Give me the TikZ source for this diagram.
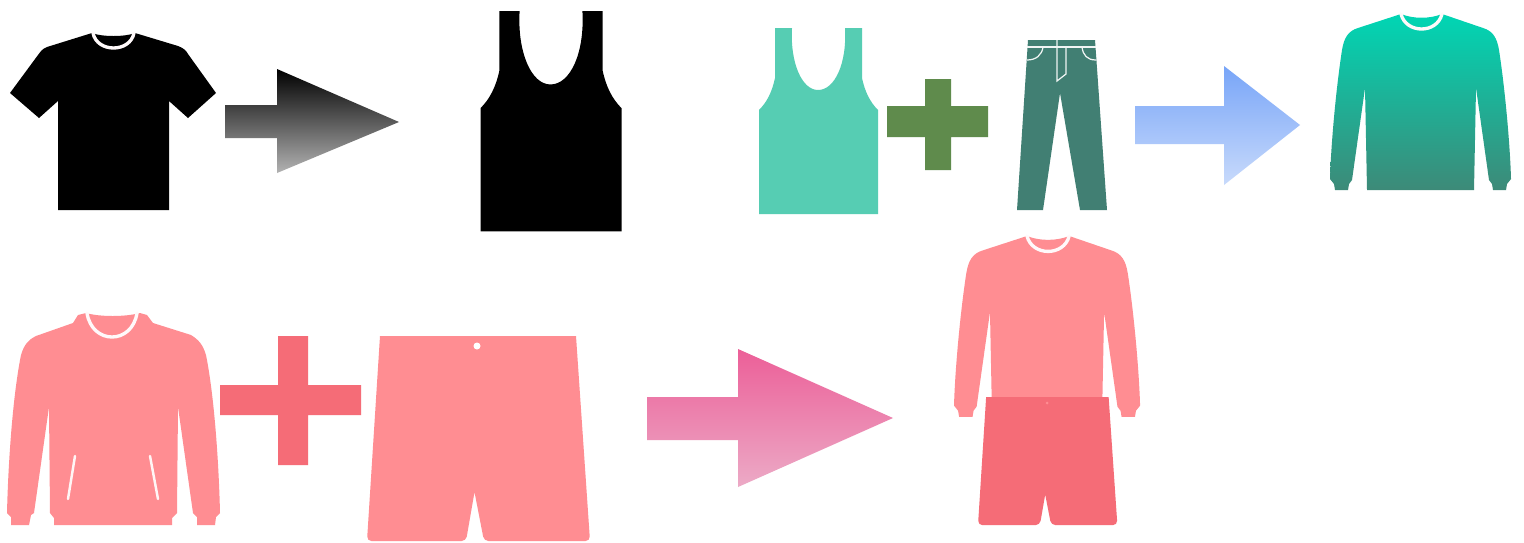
\documentclass[tikz,border=0pt]{standalone}
\definecolor{vestteal}{RGB}{86,205,179}
\definecolor{plusgreen}{RGB}{95,139,76}
\definecolor{jeansteal}{RGB}{65,127,115}
\definecolor{sweatpink}{RGB}{255,141,146}
\definecolor{shortsrose}{RGB}{245,108,119}
\definecolor{pullovertop}{RGB}{0,214,180}
\definecolor{pulloverbot}{RGB}{61,138,120}
\definecolor{arrowblue}{RGB}{120,165,248}
\definecolor{arrowsky}{RGB}{200,218,251}
\definecolor{arrowrose}{RGB}{236,95,152}
\definecolor{arrowblush}{RGB}{236,170,198}
\tikzset{
  collar/.style={draw=white!95!sweatpink, line width=1.9pt, line cap=round},
  seam/.style={draw=white!92!jeansteal, line width=0.7pt},
  pocket/.style={draw=white!92!sweatpink, line width=1.4pt, line cap=round},
  pics/longsleeve/.style={code={
    \path[#1] (71,0) -- (28,14) .. controls (18,17) and (14,24) .. (12,36)
      .. controls (6,75) and (1,130) .. (0,165) -- (4,170) -- (5,176) -- (18,176)
      -- (19,170) -- (22,166) -- (35,74) -- (37,176) -- (144,176) -- (146,74)
      -- (159,166) -- (162,170) -- (163,176) -- (176,176) -- (177,170) -- (181,165)
      .. controls (180,130) and (175,75) .. (169,36)
      .. controls (167,24) and (163,17) .. (153,14) -- (112,0)
      .. controls (100,5) and (83,5) .. (71,0) -- cycle;
    \draw[collar] (71,0) .. controls (76,20) and (107,20) .. (112,0);
  }},
  pics/vest/.style={code={
    \path[#1] (16,0) -- (16,50) .. controls (13,64) and (8,74) .. (0,82) -- (0,186) -- (119,186)
      -- (119,82) .. controls (111,74) and (106,64) .. (103,50) -- (103,0) -- (86,0)
      .. controls (88,35) and (76,62) .. (59,62) .. controls (43,62) and (31,35) .. (33,0)
      -- cycle;
  }},
  pics/shorts/.style={code={
    \path[#1] (13,0) [rounded corners=2.5pt] -- (0,205) -- (99,205) [sharp corners] -- (107.5,156)
      [rounded corners=2.5pt] -- (117,205) -- (223,205) [sharp corners] -- (209,0) -- cycle;
  }},
}
\begin{document}
\begin{tikzpicture}[x=0.02cm, y=-0.02cm]

  \path[use as bounding box, fill=white] (0,0) rectangle (1524,542);

  %% ---------------- top left: tee to vest ----------------
  \fill[black] (92,33) -- (47,47) .. controls (42,49) and (40,52) .. (38,55) -- (10,93)
    -- (39,118) -- (58,101) -- (58,210) -- (169,210) -- (169,101) -- (188,118) -- (216,93)
    -- (188,54) .. controls (186,50) and (183,48) .. (178,46) -- (135,33)
    .. controls (125,37) and (102,37) .. (92,33) -- cycle;
  \draw[collar] (93,33) .. controls (97,53) and (130,53) .. (134,33);
  \shade[top color=black, bottom color=black!30]
    (225,105) -- (277,105) -- (277,69) -- (399,122) -- (277,173) -- (277,138) -- (225,138) -- cycle;
  \pic[scale=1.185] at (480.5,11) {vest={fill=black}};

  %% ---------------- top right: vest + jeans ----------------
  \pic at (759,28) {vest={fill=vestteal}};
  \fill[plusgreen] (925,79) -- (951,79) -- (951,106) -- (988,106) -- (988,137) -- (951,137)
    -- (951,170) -- (925,170) -- (925,137) -- (887,137) -- (887,106) -- (925,106) -- cycle;
  \fill[jeansteal] (1028,40) -- (1095,40) -- (1107,210) -- (1080,210) -- (1060,93)
    -- (1043,210) -- (1017,210) -- cycle;
  \draw[seam] (1027,47) -- (1096,47);
  \draw[seam] (1057,40) -- (1057,81) -- (1066,74) -- (1066,47);
  \draw[seam] (1027,60) .. controls (1036,60) and (1042,55) .. (1043,47);
  \draw[seam] (1096,60) .. controls (1087,60) and (1083,55) .. (1082,47);
  \shade[top color=arrowblue, bottom color=arrowsky]
    (1135,106) -- (1224,106) -- (1224,66) -- (1300,125) -- (1224,185) -- (1224,144) -- (1135,144) -- cycle;
  \pic at (1330,14) {longsleeve={top color=pullovertop, bottom color=pulloverbot}};

  %% ---------------- bottom: hoodie + shorts ----------------
  \fill[sweatpink] (86,313) -- (78,315) -- (73,323) -- (36,336) .. controls (28,340) and (24,345) .. (21,355)
    .. controls (12,400) and (8,470) .. (7,513) -- (11,517) -- (11,525) -- (29,525) -- (31,515) -- (34,513)
    -- (49,407) -- (50,513) -- (54,518) -- (54,525) -- (172,525) -- (172,518) -- (177,513) -- (178,407)
    -- (193,513) -- (197,517) -- (197,525) -- (215,525) -- (216,517) -- (220,513)
    .. controls (219,470) and (215,400) .. (206,355) .. controls (203,345) and (199,340) .. (191,335)
    -- (153,323) -- (147,315) -- (140,313) .. controls (125,317) and (100,317) .. (86,313) -- cycle;
  \draw[collar] (87,313) .. controls (92,345) and (132,345) .. (137,313);
  \draw[pocket] (75,456) -- (68,499);
  \draw[pocket] (150,456) -- (158,499);
  \fill[shortsrose] (278,336) -- (308,336) -- (308,385) -- (361,385) -- (361,415) -- (308,415)
    -- (308,465) -- (278,465) -- (278,415) -- (220,415) -- (220,385) -- (278,385) -- cycle;
  \pic at (367,336) {shorts={fill=sweatpink}};
  \fill[white] (477,346) circle (3.5);
  \shade[top color=arrowrose, bottom color=arrowblush]
    (647,397) -- (738,397) -- (738,349) -- (893,418) -- (738,487) -- (738,440) -- (647,440) -- cycle;
  \pic[scale=1.028] at (954,236) {longsleeve={fill=sweatpink}};
  \pic[scale=0.625] at (978,397) {shorts={fill=shortsrose}};
  \fill[sweatpink] (1047,403) circle (1.5);

\end{tikzpicture}
\end{document}
